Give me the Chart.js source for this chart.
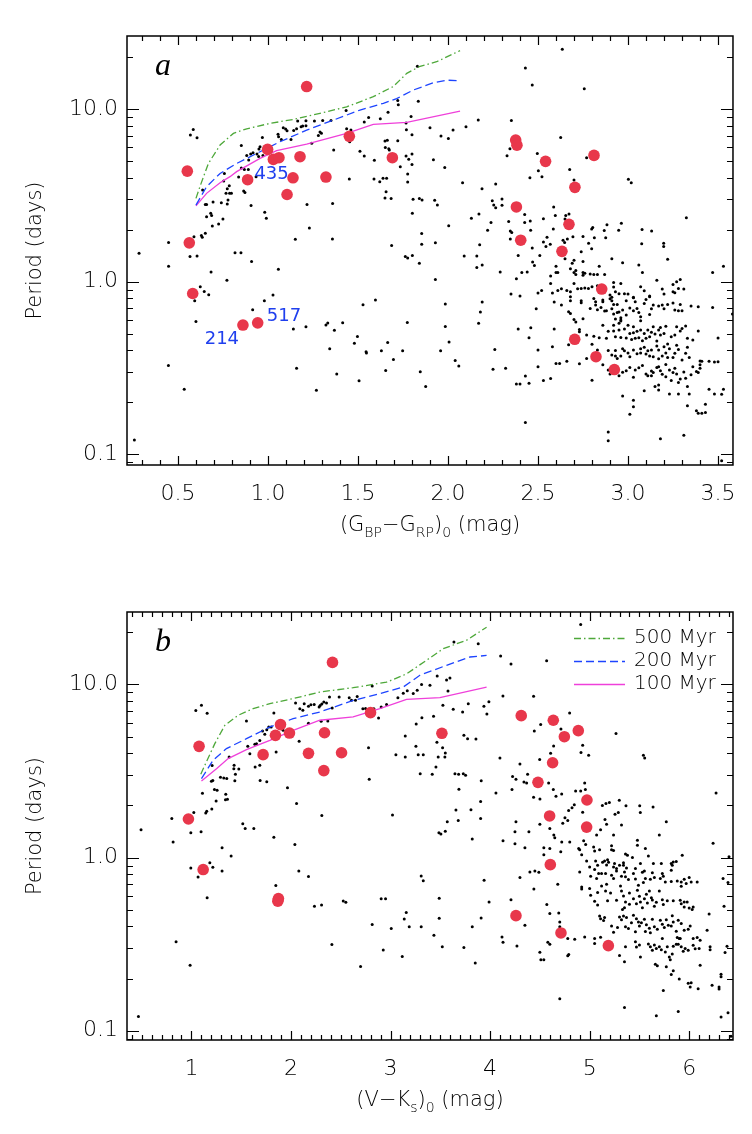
<!DOCTYPE html>
<html><head><meta charset="utf-8">
<script src="https://cdn.jsdelivr.net/npm/chart.js@4.4.1/dist/chart.umd.min.js"></script>
<style>
html,body{margin:0;padding:0;background:#fff;}
#wrap{position:relative;width:752px;height:1134px;background:#fff;}
canvas{position:absolute;left:0;}
</style></head><body>
<div id="wrap">
<canvas id="ca" width="752" height="567" style="top:0px"></canvas>
<canvas id="cb" width="752" height="567" style="top:567px"></canvas>
</div>
<script>
// ---------------- DATA ----------------
// Panel a: x = (G_BP - G_RP)_0 [mag], y = rotation period [days]
const xTicksA = [0.5, 1.0, 1.5, 2.0, 2.5, 3.0, 3.5];
const xTicksB = [1, 2, 3, 4, 5, 6];
const yTicks = [0.1, 1, 10];
const legendLabels = ['500 Myr', '200 Myr', '100 Myr'];

const fieldA = [
[1.83,17.7],[0.585,7.62],[0.569,7.07],[0.606,6.82],[0.852,6.16],[0.969,6.85],[0.882,5.39],[0.904,5.49],[0.893,5.07],[0.917,5.58],
[0.939,5.49],[0.950,5.87],[0.956,6.05],[0.948,5.32],[0.972,5.39],[1.056,7.16],[1.059,6.92],[1.074,6.67],[1.085,7.80],[1.098,7.66],
[1.106,7.50],[1.128,6.67],[1.143,7.52],[1.159,7.68],[1.165,8.52],[1.184,7.91],[1.193,7.97],[1.211,8.55],[1.211,8.0],[1.243,6.33],
[1.258,8.52],[1.280,7.04],[1.289,7.36],[1.297,7.24],[1.304,8.6],[1.350,8.6],[1.365,5.79],[1.434,9.82],[1.437,7.68],[1.454,6.47],
[1.461,7.57],[1.511,5.69],[1.535,5.35],[1.535,8.41],[1.559,8.95],[1.591,5.05],[1.624,8.8],[1.650,6.53],[1.663,6.6],[1.652,6.0],
[1.671,5.9],[1.667,9.57],[1.674,5.8],[1.721,11.2],[1.724,10.6],[1.721,6.55],[1.767,8.3],[1.795,9.07],[1.769,7.6],[1.800,7.1],
[1.835,11.1],[1.767,5.35],[1.782,5.13],[1.800,5.49],[1.735,4.63],[1.776,4.2],[1.800,4.78],[1.900,7.8],[1.961,6.98],[2.002,6.76],
[1.919,5.09],[1.982,4.59],[0.865,3.35],[0.872,3.29],[0.837,4.04],[0.852,4.55],[0.869,4.47],[0.891,4.47],[0.934,4.06],[0.758,4.24],
[0.754,3.83],[0.774,3.46],[0.785,3.6],[0.787,3.25],[0.797,3.25],[0.767,3.25],[0.778,2.97],[0.774,2.82],[0.637,3.4],[0.652,2.8],
[0.659,2.8],[0.695,2.9],[0.741,2.87],[0.682,2.49],[0.687,2.42],[0.659,2.38],[0.691,2.1],[0.726,2.16],[0.750,2.31],[0.652,1.91],
[0.630,1.85],[0.635,1.81],[0.589,1.82],[0.906,2.76],[0.982,2.53],[0.991,2.33],[1.217,2.8],[1.230,2.05],[1.359,2.84],[1.152,1.76],
[1.358,1.77],[1.452,3.93],[1.589,3.93],[1.621,3.8],[1.639,3.98],[1.659,3.98],[1.656,3.32],[1.650,3.05],[1.684,3.03],[1.776,3.78],
[1.806,3.0],[1.841,3.03],[1.856,2.97],[1.802,2.49],[1.926,2.96],[1.941,2.78],[1.854,1.9],[1.854,1.65],[1.930,1.68],[2.004,2.11],
[1.687,1.62],[0.448,1.69],
[0.284,1.46],[0.567,1.40],[0.606,1.41],[0.817,1.47],[0.850,1.47],[0.448,1.23],[0.909,1.31],[1.058,1.18],[0.684,1.14],[0.772,1.02],
[0.624,0.935],[0.646,0.879],[0.671,0.841],[0.593,0.776],[0.600,0.589],[0.915,0.689],[0.980,0.776],[1.028,0.837],[0.447,0.327],[0.535,0.238],
[0.258,0.121],[1.141,0.532],[1.159,0.315],[1.211,0.548],[1.269,0.235],[1.322,0.561],[1.332,0.576],[1.369,0.523],[1.415,0.578],[1.343,0.409],
[1.382,0.292],[1.480,0.44],[1.497,0.482],[1.528,0.736],[1.545,0.393],[1.547,0.386],[1.597,0.783],[1.506,0.267],[1.630,0.398],[1.654,0.306],
[1.665,0.445],[1.697,0.355],[1.748,0.398],[1.774,0.581],[1.846,0.301],[1.876,0.247],[1.763,1.40],[1.776,1.37],[1.802,1.42],[1.841,1.28],
[1.930,1.03],[1.985,0.743],[1.985,0.551],[2.006,0.448],[1.959,0.398],
[2.635,22.2],[2.430,17.3],[2.468,13.8],[2.757,13.1],[2.168,8.64],[2.352,8.6],[2.100,7.91],[2.028,7.57],[2.626,6.85],[2.344,5.89],
[2.328,5.37],[2.496,5.53],[2.770,5.23],[2.676,4.47],[2.502,4.39],[2.522,4.06],[2.455,4.0],[2.700,3.88],[3.002,3.92],[3.018,3.74],
[2.081,3.74],[2.189,3.46],[2.265,3.68],[2.246,2.94],[2.254,2.78],[2.265,2.68],[2.300,3.01],[2.300,2.77],[2.587,2.71],[2.172,2.47],
[2.130,2.33],[2.239,2.2],[2.220,1.99],[2.337,2.23],[2.346,1.97],[2.354,1.93],[2.346,1.77],[2.426,2.45],[2.426,2.2],[2.457,2.25],
[2.459,1.99],[2.530,2.32],[2.596,2.42],[2.654,2.42],[2.672,2.47],[2.650,2.31],[2.585,2.02],[2.550,1.81],[2.544,1.6],[2.530,1.70],
[2.568,1.65],[2.639,1.74],[2.648,1.69],[2.694,1.82],[2.663,1.77],[2.750,1.83],[2.804,2.06],[2.798,2.02],[2.813,1.8],[2.781,1.67],
[2.798,1.55],[2.868,1.98],[2.876,1.8],[2.883,2.14],[2.963,2.18],[2.948,1.99],[3.078,2.01],[3.131,1.97],[3.076,1.66],[3.198,1.67],
[3.198,1.6],[3.324,2.35],[2.176,1.64],[2.468,1.57],
[2.09,1.41],[2.16,1.41],[2.39,1.42],[2.51,1.42],[2.47,1.30],[2.48,1.24],[2.16,1.21],[2.19,1.25],[2.29,1.14],[2.41,1.13],
[2.44,1.14],[2.57,1.08],[2.60,1.23],[2.60,1.13],[2.61,1.13],[2.65,1.36],[2.68,1.19],[2.70,1.13],[2.71,1.16],[2.71,1.10],
[2.69,1.28],[2.70,1.33],[2.75,1.31],[2.74,1.49],[2.75,1.13],[2.75,1.09],[2.76,1.12],[2.79,1.11],[2.81,1.10],[2.84,1.23],
[2.83,1.10],[2.87,1.10],[2.91,1.36],[2.97,1.29],[3.06,1.25],[3.08,1.13],[3.22,1.35],[3.53,1.23],[3.47,1.13],
[2.38,1.04],[2.35,0.849],[2.40,0.826],[2.50,0.86],[2.52,0.891],[2.58,0.86],[2.61,0.891],[2.57,0.978],[2.63,0.911],[2.66,0.891],
[2.68,0.875],[2.70,0.976],[2.72,0.911],[2.74,0.915],[2.76,0.919],[2.78,0.915],[2.80,0.935],[2.83,0.948],[2.87,0.883],[2.90,0.837],
[2.91,0.812],[2.92,0.99],[2.92,0.931],[2.93,0.875],[2.95,0.852],[2.96,0.976],[2.98,0.852],[3.00,0.849],[3.03,0.808],[3.07,0.935],
[3.09,0.887],[3.12,0.826],[3.16,1.02],[3.19,0.907],[3.20,0.849],[3.25,0.965],[3.25,0.875],[3.27,1.0],[3.28,0.915],[3.29,1.03],
[3.26,0.864],[3.31,0.907],
[2.19,0.762],[2.18,0.667],[2.17,0.574],[2.49,0.698],[2.59,0.762],[2.63,0.733],[2.67,0.67],[2.68,0.655],[2.68,0.818],[2.68,0.776],
[2.74,0.776],[2.74,0.756],[2.79,0.70],[2.81,0.80],[2.82,0.766],[2.82,0.733],[2.83,0.689],[2.86,0.783],[2.86,0.766],[2.85,0.71],
[2.87,0.676],[2.88,0.679],[2.90,0.797],[2.91,0.776],[2.92,0.739],[2.91,0.698],[2.92,0.65],[2.93,0.608],[2.94,0.664],[2.94,0.739],
[2.95,0.667],[2.96,0.618],[2.96,0.60],[2.97,0.685],[2.99,0.641],[2.99,0.776],[3.01,0.704],[3.03,0.679],[3.03,0.812],[3.04,0.766],
[3.05,0.70],[3.06,0.664],[3.07,0.627],[3.07,0.594],[3.09,0.749],[3.10,0.79],[3.12,0.647],[3.12,0.818],[3.13,0.698],[3.14,0.733],
[3.17,0.723],[3.19,0.733],[3.20,0.698],[3.22,0.739],[3.25,0.753],[3.26,0.685],[3.28,0.679],[3.29,0.739],[3.30,0.679],[3.35,0.723],
[3.39,0.717],[3.47,0.71],[3.58,0.65],
[2.39,0.532],[2.46,0.541],[2.45,0.474],[2.59,0.532],[2.70,0.605],[2.71,0.584],[2.73,0.529],[2.75,0.61],[2.73,0.513],[2.77,0.491],
[2.81,0.484],[2.84,0.474],[2.86,0.559],[2.88,0.47],[2.89,0.516],[2.92,0.559],[2.92,0.518],[2.93,0.48],[2.95,0.574],[2.95,0.525],
[2.96,0.476],[2.96,0.592],[2.98,0.532],[2.99,0.472],[3.00,0.559],[3.01,0.502],[3.02,0.463],[3.03,0.506],[3.03,0.548],[3.04,0.47],
[3.05,0.516],[3.06,0.474],[3.07,0.525],[3.08,0.455],[3.09,0.502],[3.10,0.47],[3.11,0.525],[3.12,0.48],[3.13,0.509],[3.14,0.548],
[3.15,0.498],[3.16,0.453],[3.17,0.525],[3.18,0.491],[3.18,0.544],[3.20,0.502],[3.21,0.552],[3.22,0.436],[3.24,0.48],[3.26,0.491],
[3.27,0.548],[3.29,0.518],[3.30,0.536],[3.32,0.554],[3.33,0.47],[3.36,0.459],[3.39,0.518],[3.50,0.472],
[2.26,0.405],[2.50,0.402],[2.58,0.42],[2.67,0.432],[2.80,0.434],[2.83,0.402],[2.89,0.40],[2.91,0.376],[2.93,0.371],[2.93,0.40],
[2.94,0.359],[2.96,0.371],[2.97,0.409],[2.98,0.398],[3.00,0.387],[3.01,0.368],[3.03,0.402],[3.05,0.383],[3.07,0.409],[3.07,0.387],
[3.09,0.417],[3.10,0.381],[3.11,0.398],[3.12,0.371],[3.13,0.402],[3.14,0.368],[3.16,0.424],[3.17,0.402],[3.17,0.358],[3.19,0.372],
[3.20,0.42],[3.21,0.387],[3.22,0.364],[3.23,0.409],[3.25,0.364],[3.26,0.385],[3.27,0.428],[3.28,0.405],[3.30,0.352],[3.32,0.385],
[3.33,0.417],[3.34,0.364],[3.40,0.347],[3.40,0.33],[3.41,0.346],[3.45,0.346],[3.48,0.343],[3.50,0.344],[2.04,0.35],[2.06,0.325],
[2.25,0.311],[2.32,0.315],[2.50,0.322],[2.60,0.336],[2.62,0.336],[2.66,0.346],[2.73,0.335],[2.77,0.359],[2.86,0.33],
[2.38,0.256],[2.40,0.256],[2.43,0.284],[2.45,0.258],[2.53,0.268],[2.57,0.275],[2.80,0.269],[2.89,0.308],[2.90,0.292],[2.93,0.302],
[2.95,0.285],[2.97,0.299],[2.99,0.305],[3.01,0.319],[3.03,0.28],[3.04,0.308],[3.06,0.318],[3.08,0.327],[3.09,0.234],[3.10,0.292],
[3.11,0.285],[3.13,0.304],[3.13,0.285],[3.14,0.298],[3.16,0.319],[3.17,0.322],[3.18,0.305],[3.19,0.291],[3.21,0.332],[3.21,0.282],
[3.23,0.308],[3.24,0.268],[3.25,0.298],[3.26,0.315],[3.27,0.292],[3.28,0.261],[3.29,0.273],[3.31,0.30],[3.32,0.276],[3.33,0.247],
[3.35,0.289],[3.36,0.322],[3.38,0.302],[3.39,0.298],[3.40,0.315],[3.15,0.247],[3.17,0.252],[3.17,0.236],[3.23,0.224],[3.28,0.224],
[3.34,0.224],[3.33,0.191],[3.38,0.179],[3.39,0.173],[3.41,0.173],[3.43,0.175],[3.43,0.195],[3.45,0.238],[3.48,0.224],[3.52,0.223],
[3.53,0.238],[2.97,0.218],[3.03,0.206],[3.03,0.189],[3.01,0.171],
[2.43,0.153],[2.89,0.135],[2.89,0.12],[3.18,0.123],[3.31,0.129],[3.52,0.092]
];

const membersA = [
[0.552,4.37],[1.215,13.5],[0.998,5.84],[1.030,5.11],[1.061,5.23],[1.178,5.30],[0.887,3.90],[1.139,4.0],[1.322,4.04],[1.106,3.2],
[1.452,6.95],[1.691,5.23],[0.563,1.68],[0.582,0.855],[0.861,0.561],[0.943,0.578],[2.376,6.61],[2.383,6.18],[2.811,5.39],[2.542,4.98],
[2.705,3.52],[2.380,2.71],[2.672,2.15],[2.404,1.74],[2.633,1.50],[2.854,0.907],[2.704,0.464],[2.822,0.368],[2.924,0.31]
];

const iso500A = [[0.600,3.04],[0.622,3.55],[0.669,4.84],[0.734,6.19],[0.808,7.23],[0.882,7.69],[1.011,8.26],[1.141,8.71],[1.289,9.44],[1.437,10.3],[1.585,11.8],[1.696,13.5],[1.771,16.1],[1.845,17.7],[1.937,18.8],[2.067,21.8]];
const iso200A = [[0.600,2.78],[0.659,3.55],[0.734,4.24],[0.826,4.84],[0.956,5.66],[1.067,6.47],[1.215,7.55],[1.363,8.63],[1.511,9.87],[1.641,10.8],[1.715,11.5],[1.808,12.9],[1.919,14.2],[1.993,14.7],[2.067,14.6]];
const iso100A = [[0.600,2.75],[0.659,3.25],[0.734,3.74],[0.789,4.06],[0.826,4.34],[0.956,5.18],[1.048,5.74],[1.215,6.27],[1.437,7.23],[1.585,8.15],[1.771,8.37],[2.067,9.73]];

const starLabelsA = [['435', 1.02, 4.2], ['517', 1.089, 0.633], ['214', 0.744, 0.466]];

// Panel b: x = (V - Ks)_0 [mag]
const fieldB = [
[3.637,17.6],[3.881,17.2],[2.816,9.8],[3.469,11.2],[3.563,10.6],[3.597,10.9],[3.396,9.88],[3.312,10.0],[3.268,9.25],[3.228,8.85],
[3.577,9.17],[1.044,7.08],[1.101,7.58],[1.158,6.81],[1.553,6.15],[1.828,6.84],[2.046,7.82],[2.089,7.24],[2.133,7.74],[2.119,7.09],
[2.176,7.48],[2.200,7.64],[2.233,7.66],[2.283,7.41],[2.293,7.56],[2.310,7.7],[2.330,7.91],[2.357,7.82],[2.387,8.46],[2.414,7.31],
[2.484,8.46],[2.585,8.39],[2.608,8.09],[2.648,8.09],[2.665,8.53],[2.722,7.24],[2.749,7.26],[2.833,7.24],[2.880,6.4],[2.906,7.41],
[2.960,7.66],[3.074,8.39],[3.128,8.88],[3.168,9.2],[3.526,7.58],[3.630,7.18],[3.724,6.93],[3.781,7.74],[1.566,4.39],[1.587,3.98],
[1.637,4.51],[1.654,4.55],[1.687,4.75],[1.714,5.38],[1.737,5.15],[1.757,5.48],[1.777,5.68],[1.801,5.68],[1.851,4.07],[1.921,5.43],
[1.972,5.48],[2.082,4.69],[2.176,5.96],[2.370,6.15],[2.303,6.12],[1.379,3.81],[1.429,3.41],[1.426,3.26],[1.442,3.03],[1.436,2.78],
[1.476,3.25],[1.208,3.4],[1.215,2.79],[1.201,2.76],[1.111,2.35],[1.292,2.91],[1.325,2.88],[1.355,2.86],[1.231,2.47],[1.258,2.45],
[1.248,2.12],[1.205,1.91],[1.154,1.85],[1.144,1.81],[1.345,2.32],[1.342,2.16],[1.362,2.17],[1.640,3.33],[1.687,3.41],[1.690,2.79],
[1.757,2.74],[1.965,2.53],[2.056,2.05],[2.310,1.75],[2.786,2.83],[3.020,1.76],[2.779,4.31],[3.054,3.93],[3.148,3.81],[3.148,5.04],
[3.255,4.39],[3.258,5.91],[3.315,6.43],[3.432,6.55],[3.278,3.93],[3.329,3.93],[3.298,3.05],[3.419,3.03],[3.456,3.33],[3.479,3.81],
[3.546,3.81],[3.466,4.63],[3.523,4.31],[3.550,4.02],[3.647,3.05],[3.684,3.03],[3.731,3.05],[3.754,2.99],[3.737,5.08],[3.774,4.86],
[3.858,4.84],[3.687,2.48],[3.657,1.88],[3.808,1.89],[0.803,1.68],[1.024,1.82],
[0.494,1.45],[0.816,1.23],[0.994,1.39],[1.097,1.41],[1.516,1.57],[1.540,1.47],[1.627,1.47],[1.828,1.31],[2.039,1.19],[1.308,1.14],
[1.399,1.02],[1.185,0.935],[1.215,0.879],[0.994,0.871],[1.067,0.773],[1.308,0.837],[1.158,0.587],[1.848,0.689],[2.079,0.837],[2.176,0.777],
[2.236,0.523],[2.307,0.533],[2.525,0.562],[2.551,0.553],[2.816,0.41],[2.906,0.579],[2.950,0.579],[3.007,0.389],[2.927,0.293],[3.118,0.268],
[3.138,0.442],[3.158,0.481],[3.188,0.398],[3.308,0.783],[3.329,0.736],[3.308,0.398],[3.436,0.356],[3.489,0.582],[3.489,0.446],[3.520,0.306],
[3.737,0.302],[3.821,0.398],[3.851,0.246],[3.486,1.39],[3.506,1.37],[3.550,1.42],[3.570,1.61],[3.680,1.64],[3.821,1.28],[0.846,0.327],
[0.987,0.239],[2.699,0.235],[2.411,0.315],[0.468,0.121],
[4.910,22.2],[4.106,14.6],[4.210,13.1],[4.568,13.7],[4.129,8.57],[4.437,8.55],[3.938,7.48],[3.988,7.93],[3.968,6.75],[4.799,6.84],
[4.508,5.86],[4.444,5.38],[4.712,5.53],[5.265,5.2],[4.638,4.41],[4.608,4.0],[4.930,4.45],[4.913,4.04],[4.990,3.9],[5.540,3.9],
[5.553,3.76],[4.498,3.69],[4.300,3.47],[4.099,3.76],[4.226,2.94],[4.260,2.83],[4.377,3.03],[4.340,2.73],[4.367,2.7],[4.220,2.47],
[4.059,2.36],[4.588,2.7],[4.635,2.47],[4.662,2.26],[4.719,2.33],[4.859,2.42],[4.910,2.42],[4.950,2.7],[4.957,2.47],[4.437,2.23],
[4.501,2.18],[4.846,2.02],[4.823,1.94],[4.789,1.87],[4.752,1.70],[4.930,1.83],[5.128,2.0],[5.164,2.05],[5.198,2.08],[5.298,2.14],
[5.365,1.99],[5.503,1.99],[5.637,1.96],[5.255,1.78],[5.288,1.82],[5.154,1.66],[5.509,1.82],[6.270,2.36],[3.911,2.78],[3.905,2.11],
[3.905,1.68],
[4.26,1.61],[4.50,1.56],[4.78,1.64],[4.73,1.58],[4.25,1.41],[4.39,1.41],[4.60,1.47],[4.64,1.35],[4.72,1.23],[4.80,1.23],
[4.65,1.30],[4.13,1.25],[4.25,1.20],[4.35,1.14],[4.54,1.14],[4.60,1.13],[4.54,1.04],[4.71,1.08],[4.89,1.13],[4.90,1.11],
[4.96,1.19],[4.94,1.25],[5.04,1.15],[5.07,1.35],[5.05,1.09],[5.10,1.11],[5.11,1.45],[5.17,1.56],[5.24,1.35],[5.32,1.54],
[5.70,1.35],[5.48,1.26],[5.48,1.18],[5.56,1.13],[5.24,1.10],[5.22,1.17],[5.22,1.11],[5.77,1.61],[6.24,1.21],
[4.92,1.04],[4.97,0.956],[5.06,0.956],[5.15,0.956],[5.18,0.97],[5.13,0.94],[5.17,0.906],[5.19,0.94],[5.08,0.902],[5.00,0.883],
[5.05,0.852],[5.25,0.923],[5.24,0.883],[5.27,0.864],[5.30,0.902],[5.34,0.935],[5.36,1.05],[5.38,1.03],[5.43,1.0],[5.34,0.902],
[5.37,0.871],[5.27,0.837],[5.35,0.826],[5.44,0.808],[5.46,0.864],[5.53,0.822],[5.55,0.837],[5.59,1.02],[5.51,0.923],[5.64,0.923],
[5.63,0.818],[5.72,0.923],[5.73,0.808],[5.82,0.923],[5.83,0.902],[5.82,0.845],[5.84,0.944],[5.93,1.03],[5.87,0.95],[4.90,0.826],
[5.07,0.756],[5.09,0.808],[5.01,0.78],[5.12,0.808],[5.16,0.808],[5.22,0.79],[5.24,0.756],[5.32,0.78],[5.36,0.774],[5.39,0.746],
[5.46,0.753],[5.54,0.717],[5.49,0.692],[5.56,0.756],[5.61,0.75],[5.65,0.767],[5.71,0.756],[5.76,0.723],[5.74,0.78],[5.82,0.727],
[5.88,0.733],[5.92,0.723],[5.95,0.75],[5.97,0.708],[6.00,0.767],[6.02,0.723],[6.08,0.723],[6.34,0.756],[6.39,0.717],[5.92,0.683],
[4.40,0.826],[4.45,0.837],[4.49,0.822],[3.94,0.74],[4.30,0.767],[4.44,0.659],[4.68,0.701],[6.40,1.01],
[4.92,0.677],[4.92,0.659],[5.00,0.662],[5.01,0.606],[5.08,0.628],[5.16,0.641],[5.21,0.625],[5.17,0.701],[5.05,0.56],[5.08,0.533],
[5.12,0.686],[5.18,0.564],[5.27,0.567],[5.31,0.686],[5.32,0.641],[5.34,0.60],[5.36,0.554],[5.40,0.625],[5.33,0.501],[5.35,0.514],
[5.40,0.538],[5.44,0.579],[5.47,0.542],[5.48,0.647],[5.50,0.598],[5.51,0.554],[5.53,0.514],[5.55,0.579],[5.57,0.614],[5.58,0.547],
[5.60,0.641],[5.62,0.587],[5.63,0.569],[5.65,0.523],[5.67,0.552],[5.70,0.641],[5.73,0.571],[5.74,0.535],[5.78,0.564],[5.84,0.564],
[5.91,0.567],[5.92,0.542],[5.95,0.554],[6.00,0.512],[5.98,0.554],[6.03,0.501],[6.04,0.519],[5.95,0.519],[6.20,0.473],[6.35,0.523],
[4.21,0.571],[3.99,0.554],[4.57,0.535],[4.60,0.475],[4.69,0.479],
[3.91,0.448],[4.35,0.407],[4.27,0.309],[4.58,0.324],[4.60,0.316],[4.70,0.425],[4.70,0.398],[4.78,0.341],[4.85,0.338],[4.95,0.348],
[5.05,0.341],[5.10,0.46],[5.15,0.45],[5.11,0.444],[5.14,0.433],[5.22,0.402],[5.24,0.371],[5.28,0.395],[5.30,0.454],[5.32,0.438],
[5.34,0.46],[5.37,0.45],[5.36,0.398],[5.39,0.39],[5.42,0.42],[5.44,0.464],[5.46,0.373],[5.47,0.444],[5.49,0.425],[5.50,0.402],
[5.52,0.42],[5.55,0.44],[5.56,0.374],[5.57,0.409],[5.60,0.391],[5.61,0.368],[5.63,0.44],[5.65,0.398],[5.68,0.386],[5.71,0.435],
[5.73,0.412],[5.75,0.395],[5.77,0.438],[5.79,0.407],[5.82,0.402],[5.83,0.462],[5.84,0.425],[5.87,0.376],[5.89,0.435],[5.92,0.416],
[5.95,0.381],[5.99,0.385],[6.01,0.402],[6.04,0.341],[6.08,0.345],[6.11,0.333],[6.18,0.381],[6.21,0.305],[6.36,0.283],[6.38,0.308],
[5.88,0.345],[5.90,0.341],
[4.12,0.348],[4.13,0.324],[4.50,0.284],[4.51,0.257],[4.54,0.257],[4.71,0.368],[4.78,0.271],[4.79,0.276],[5.05,0.319],[5.11,0.347],
[5.30,0.272],[5.36,0.305],[5.35,0.25],[5.46,0.326],[5.47,0.304],[5.50,0.313],[5.51,0.267],[5.59,0.317],[5.61,0.305],[5.63,0.292],
[5.65,0.313],[5.67,0.298],[5.70,0.305],[5.72,0.294],[5.73,0.341],[5.76,0.285],[5.78,0.305],[5.80,0.267],[5.81,0.257],[5.83,0.277],
[5.84,0.308],[5.87,0.316],[5.89,0.316],[5.91,0.341],[5.92,0.305],[5.94,0.288],[5.96,0.298],[5.99,0.292],[6.04,0.312],[6.06,0.297],
[6.10,0.298],[6.11,0.239],[6.21,0.294],
[5.66,0.242],[5.68,0.237],[5.77,0.234],[5.82,0.211],[5.84,0.222],[5.90,0.199],[5.99,0.188],[6.02,0.189],[6.01,0.179],[6.09,0.175],
[6.23,0.183],[6.30,0.179],[6.30,0.174],[6.32,0.212],[6.32,0.205],[5.74,0.171],[4.70,0.153],[5.35,0.136],[5.67,0.122],[5.89,0.129],
[6.32,0.12],[6.39,0.127],[6.42,0.093]
];

const membersB = [
[2.417,13.4],[1.077,4.39],[1.895,5.86],[1.844,5.08],[1.985,5.24],[2.337,5.26],[1.720,3.93],[2.176,4.0],[2.508,4.03],[2.330,3.18],
[2.799,6.87],[3.516,5.22],[0.970,1.67],[4.313,6.6],[4.635,6.21],[4.746,4.99],[4.886,5.41],[4.628,3.53],[4.481,2.72],[4.973,2.15],
[4.598,1.74],[1.118,0.853],[1.868,0.56],[1.874,0.58],[4.970,1.50],[4.605,0.91],[4.260,0.462],[4.712,0.367],[5.188,0.31]
];

const iso500B = [[1.094,3.03],[1.158,3.65],[1.235,4.55],[1.335,5.80],[1.469,6.63],[1.620,7.25],[1.788,7.74],[2.022,8.28],[2.290,9.04],[2.625,9.58],[2.960,10.3],[3.161,11.5],[3.362,13.8],[3.530,16.1],[3.764,18.0],[3.965,21.4]];
const iso200B = [[1.101,2.86],[1.218,3.65],[1.352,4.26],[1.553,4.86],[1.788,5.68],[2.022,6.34],[2.290,6.93],[2.625,8.09],[2.893,8.85],[3.128,9.66],[3.295,11.3],[3.563,12.9],[3.798,14.4],[3.965,14.7]];
const iso100B = [[1.101,2.77],[1.252,3.26],[1.369,3.73],[1.553,4.2],[1.788,4.75],[2.022,5.43],[2.290,6.21],[2.625,6.49],[2.893,7.25],[3.161,8.2],[3.496,8.39],[3.965,9.66]];

// ---------------- STYLE ----------------
const GREEN = '#4ea83a', BLUE = '#1d44ff', MAGENTA = '#ef40da', RED = '#e8374b', LABELBLUE = '#1f3fee';
const SANS = '"DejaVu Sans", "Liberation Sans", sans-serif';
const TICKFONT = {family: SANS, size: 22, weight: 200};
const DASH500 = [7, 3, 1.5, 3], DASH200 = [8, 4], DASH100 = [];

function pts(a) { return a.map(([x, y]) => ({x: x, y: y})); }

function drawRich(ctx, parts, cx, cy, big, small) {
  let w = 0;
  parts.forEach(p => { ctx.font = p[1] ? small : big; p.w = ctx.measureText(p[0]).width; w += p.w; });
  let x = cx - w / 2;
  ctx.textAlign = 'left'; ctx.textBaseline = 'middle';
  parts.forEach(p => { ctx.font = p[1] ? small : big; ctx.fillText(p[0], x, p[1] ? cy + 7 : cy); x += p.w; });
}

const framePlugin = {
  id: 'frame',
  afterDraw(chart, args, o) {
    const ctx = chart.ctx, ca = chart.chartArea;
    const xs = chart.scales.x, ys = chart.scales.y;
    ctx.save();
    ctx.strokeStyle = '#000';
    // ticks
    ctx.lineWidth = 1.2;
    ctx.beginPath();
    for (let i = Math.ceil(xs.min * 10 - 1e-6); i <= Math.floor(xs.max * 10 + 1e-6); i++) {
      const px = Math.round(xs.getPixelForValue(i / 10)) + 0.5;
      const len = (i % o.majorEvery === 0) ? 9 : 5;
      ctx.moveTo(px, ca.bottom); ctx.lineTo(px, ca.bottom - len);
      ctx.moveTo(px, ca.top); ctx.lineTo(px, ca.top + len);
    }
    for (let e = -2; e <= 1; e++) {
      for (let k = 1; k <= 9; k++) {
        const v = k * Math.pow(10, e);
        if (v < ys.min || v > ys.max) continue;
        const py = Math.round(ys.getPixelForValue(v)) + 0.5;
        const len = k === 1 ? 12 : 6;
        ctx.moveTo(ca.left, py); ctx.lineTo(ca.left + len, py);
        ctx.moveTo(ca.right, py); ctx.lineTo(ca.right - len, py);
      }
    }
    ctx.stroke();
    ctx.lineWidth = 1.5;
    ctx.strokeRect(ca.left, ca.top, ca.right - ca.left, ca.bottom - ca.top);
    // axis titles
    ctx.fillStyle = '#000';
    drawRich(ctx, o.xTitle, (ca.left + ca.right) / 2, ca.bottom + 61,
      '200 21px ' + SANS, '200 14px ' + SANS);
    ctx.save();
    ctx.translate(36, (ca.top + ca.bottom) / 2);
    ctx.rotate(-Math.PI / 2);
    ctx.font = '200 21px ' + SANS; ctx.textAlign = 'center'; ctx.textBaseline = 'middle';
    ctx.fillText('Period (days)', 0, 0);
    ctx.restore();
    // panel letter
    ctx.fillStyle = '#000';
    ctx.font = 'italic 32px "Liberation Serif", "DejaVu Serif", serif';
    ctx.textAlign = 'left'; ctx.textBaseline = 'alphabetic';
    ctx.fillText(o.letter, ca.left + 28, ca.top + 39);
    // star labels
    if (o.starLabels) {
      ctx.fillStyle = LABELBLUE; ctx.font = '18px ' + SANS;
      ctx.textAlign = 'center'; ctx.textBaseline = 'middle';
      o.starLabels.forEach(([t, x, y]) => ctx.fillText(t, xs.getPixelForValue(x), ys.getPixelForValue(y)));
    }
    // legend
    if (o.legend) {
      const styles = [[GREEN, DASH500], [BLUE, DASH200], [MAGENTA, DASH100]];
      ctx.font = '200 20px ' + SANS; ctx.textAlign = 'left'; ctx.textBaseline = 'middle';
      legendLabels.forEach((lab, i) => {
        const y = ca.top + 26 + i * 23;
        ctx.strokeStyle = styles[i][0]; ctx.lineWidth = 1.3; ctx.setLineDash(styles[i][1]);
        ctx.beginPath(); ctx.moveTo(574, y + 0.5); ctx.lineTo(625, y + 0.5); ctx.stroke();
        ctx.setLineDash([]);
        ctx.fillStyle = '#000'; ctx.fillText(lab, 634, y);
      });
    }
    ctx.restore();
  }
};

function makePanel(id, p) {
  const line = (d, c, dash) => ({data: pts(d), showLine: true, borderColor: c, borderWidth: 1.3, borderDash: dash,
    pointRadius: 0, fill: false, tension: 0, order: 1});
  return new Chart(document.getElementById(id), {
    type: 'scatter',
    data: {datasets: [
      {data: pts(p.field), pointRadius: 1.5, backgroundColor: '#000', borderColor: '#000', borderWidth: 0, order: 2},
      line(p.iso500, GREEN, DASH500),
      line(p.iso200, BLUE, DASH200),
      line(p.iso100, MAGENTA, DASH100),
      {data: pts(p.members), pointRadius: 5.8, backgroundColor: RED, borderColor: RED, borderWidth: 0, order: 0}
    ]},
    options: {
      responsive: false, animation: false, devicePixelRatio: 1,
      layout: {padding: {left: 0, right: 19, top: p.top, bottom: 0}},
      plugins: {legend: {display: false}, tooltip: {enabled: false}, frame: p.frame},
      scales: {
        x: {type: 'linear', min: p.xmin, max: p.xmax,
          afterBuildTicks: s => { s.ticks = p.xTicks.map(v => ({value: v})); },
          afterFit: s => { s.height = p.xh; },
          ticks: {font: TICKFONT, color: '#000', padding: 16, maxRotation: 0, autoSkip: false,
            callback: v => p.xFmt(v)},
          grid: {display: false, drawTicks: false}, border: {display: false}},
        y: {type: 'logarithmic', min: p.ymin, max: p.ymax,
          afterBuildTicks: s => { s.ticks = yTicks.map(v => ({value: v})); },
          afterFit: s => { s.width = 127; },
          ticks: {font: TICKFONT, color: '#000', padding: 9, autoSkip: false,
            callback: v => Number(v).toFixed(1)},
          grid: {display: false, drawTicks: false}, border: {display: false}}
      }
    },
    plugins: [framePlugin]
  });
}

makePanel('ca', {
  field: fieldA, members: membersA, iso500: iso500A, iso200: iso200A, iso100: iso100A,
  xmin: 0.217, xmax: 3.583, ymin: 0.0868, ymax: 26.5, top: 36, xh: 102,
  xTicks: xTicksA, xFmt: v => Number(v).toFixed(1),
  frame: {majorEvery: 5, letter: 'a', starLabels: starLabelsA, legend: false,
    xTitle: [['(G', 0], ['BP', 1], ['\u2212G', 0], ['RP', 1], [')', 0], ['0', 1], [' (mag)', 0]]}
});
makePanel('cb', {
  field: fieldB, members: membersB, iso500: iso500B, iso200: iso200B, iso100: iso100B,
  xmin: 0.353, xmax: 6.44, ymin: 0.0884, ymax: 26.2, top: 45, xh: 94,
  xTicks: xTicksB, xFmt: v => String(v),
  frame: {majorEvery: 10, letter: 'b', starLabels: null, legend: true,
    xTitle: [['(V\u2212K', 0], ['s', 1], [')', 0], ['0', 1], [' (mag)', 0]]}
});
</script>
</body></html>
